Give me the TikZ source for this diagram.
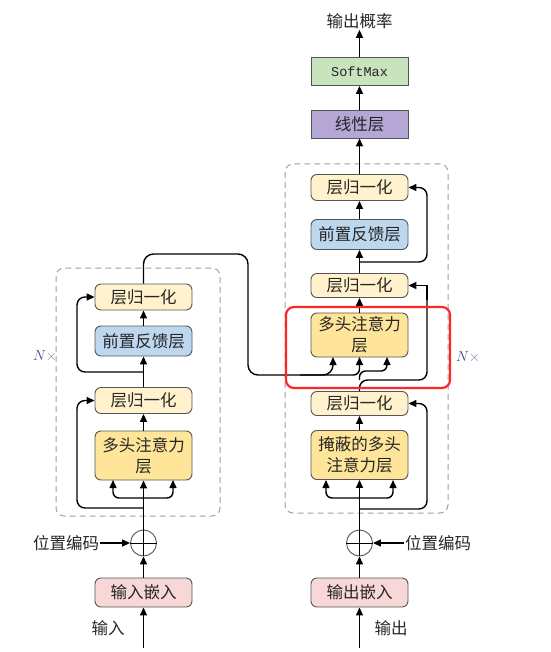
\documentclass[tikz,border=0pt]{standalone}
\usepackage{fontspec}
\setmainfont{Noto Sans CJK SC}
\newfontfamily\monofont{Liberation Mono}
\usetikzlibrary{arrows.meta}

\definecolor{lnfill}{HTML}{FFF2CC}
\definecolor{mhafill}{HTML}{FFE599}
\definecolor{fffill}{HTML}{BDD7EE}
\definecolor{embfill}{HTML}{F8D7D7}
\definecolor{linfill}{HTML}{B4A7D6}
\definecolor{smfill}{HTML}{C9E3BC}
\definecolor{boxline}{HTML}{555555}
\definecolor{framegray}{HTML}{A0A0A0}
\definecolor{nblue}{HTML}{3A4080}
\definecolor{npurple}{HTML}{A070A8}

\tikzset{
  block/.style={draw=boxline, line width=0.9pt, rounded corners=6pt, minimum width=97pt,
    inner sep=0pt, align=center, text=black!85, font=\fontsize{16.5}{21}\selectfont},
  lnbox/.style={block, fill=lnfill, minimum height=26pt},
  mhabox/.style={block, fill=mhafill, minimum height=49pt},
  ffbox/.style={block, fill=fffill, minimum height=30pt},
  embbox/.style={block, fill=embfill, minimum height=29pt},
  headbox/.style={block, rounded corners=0pt, minimum height=28pt},
  pecircle/.style={circle, draw=boxline, line width=0.9pt, minimum size=26pt, inner sep=0pt},
  lbl/.style={inner sep=1pt, text=black!85, font=\fontsize{16.5}{20}\selectfont},
  arr/.style={line width=1.4pt, -{Triangle[length=8pt,width=7pt]}},
  wire/.style={line width=1.4pt, rounded corners=8pt},
  frame/.style={draw=framegray, line width=1pt, dash pattern=on 6pt off 4pt, rounded corners=8pt},
  nlabel/.style={font=\fontsize{15}{17}\selectfont}
}

\begin{document}
\begin{tikzpicture}[x=1pt, y=-1pt]
    \useasboundingbox (0,0) rectangle (550,652);

    %% Encoder (left)
    % Input and positional encoding
    \coordinate (inbot) at (143.5,648);
    \node[lbl] (inlbl) at (108,628) {输入};
    \node[embbox] (inemb) at (143.5,592.5) {输入嵌入};
    \node[pecircle] (inpe) at (143.5,543) {};
    \draw[line width=0.9pt] (inpe.west) -- (inpe.east);
    \draw[line width=1.2pt] (inpe.south) -- (inpe.north);
    \node[lbl] (inpelbl) at (66,543) {位置编码};
    \draw[arr] (inbot) -- (inemb.south);
    \draw[arr] (inemb.north) -- (inpe.south);
    \draw[arr] (inpelbl.east) -- (inpe.west);

    % Encoder layer
    \draw[frame] (56,268) rectangle (220,516);
    \node[nlabel] (encn) at (45,356) {\textcolor{nblue}{$N$}\textcolor{npurple}{$\times$}};
    \node[mhabox] (encmha) at (143.5,455.5) {多头注意力\\层};
    \node[lnbox] (encln1) at (143.5,400.5) {层归一化};
    \node[ffbox] (encff) at (143.5,341) {前置反馈层};
    \node[lnbox] (encln2) at (143.5,297) {层归一化};

    \coordinate (encsplit) at (143.5,498);
    \coordinate (encres1) at (143.5,508);
    \coordinate (encres2) at (143.5,372);
    \draw[arr] (inpe.north) -- (encmha.south);
    \draw[arr, wire, rounded corners=6pt] (encsplit) -| (113,480);
    \draw[arr, wire, rounded corners=6pt] (encsplit) -| (173,480);
    \draw[arr, wire] (encres1) -| (77,400.5) -- (encln1.west);
    \draw[arr] (encmha.north) -- (encln1.south);
    \draw[arr] (encln1.north) -- (encff.south);
    \draw[arr, wire] (encres2) -| (77,297) -- (encln2.west);
    \draw[arr] (encff.north) -- (encln2.south);

    %% Decoder (right)
    % Output and positional encoding
    \coordinate (outbot) at (359.5,648);
    \node[lbl] (outlbl) at (391,628) {输出};
    \node[embbox] (outemb) at (359.5,592.5) {输出嵌入};
    \node[pecircle] (outpe) at (359.5,543) {};
    \draw[line width=0.9pt] (outpe.west) -- (outpe.east);
    \draw[line width=1.2pt] (outpe.south) -- (outpe.north);
    \node[lbl] (outpelbl) at (438,543) {位置编码};
    \draw[arr] (outbot) -- (outemb.south);
    \draw[arr] (outemb.north) -- (outpe.south);
    \draw[arr] (outpelbl.west) -- (outpe.east);

    % Decoder layer
    \draw[frame] (285,164) rectangle (448,513);
    \node[nlabel] (decn) at (468,357) {\textcolor{nblue}{$N$}\textcolor{npurple}{$\times$}};
    \node[mhabox] (decmmha) at (359.5,455) {掩蔽的多头\\注意力层};
    \node[lnbox, minimum height=24pt] (decln1) at (359.5,403.5) {层归一化};
    \node[mhabox, minimum height=44pt] (decmha) at (359.5,335) {多头注意力\\层};
    \node[lnbox, minimum height=24pt] (decln2) at (359.5,285.5) {层归一化};
    \node[ffbox] (decff) at (359.5,234.5) {前置反馈层};
    \node[lnbox] (decln3) at (359.5,187.5) {层归一化};

    \coordinate (decsplit) at (359.5,498);
    \coordinate (decres1) at (359.5,509);
    \coordinate (decres2) at (359.5,380);
    \coordinate (decres3) at (359.5,262);
    \draw[arr] (outpe.north) -- (decmmha.south);
    \draw[arr, wire, rounded corners=6pt] (decsplit) -| (326,480);
    \draw[arr, wire, rounded corners=6pt] (decsplit) -| (393,480);
    \draw[arr, wire] (decres1) -| (427,403.5) -- (decln1.east);
    \draw[arr] (decmmha.north) -- (decln1.south);

    % Encoder output into cross attention
    \draw[arr, wire, rounded corners=10pt] (encln2.north) -- (143.5,254) -- (248,254)
        -- (248,375) -- (333,375) -- (333,357);
    \draw[arr, wire, rounded corners=6pt] (300,375) -- (359.5,375) -- (359.5,357);
    % Query from decoder
    \draw[wire] (decln1.north) -- (decres2) -| (427,285.5);
    \draw[arr] (427,300) |- (decln2.east);
    \draw[arr, wire, rounded corners=6pt] (decres2) -- (359.5,371) -- (387,371) -- (387,357);

    \draw[arr] (decmha.north) -- (decln2.south);
    \draw[arr] (decln2.north) -- (decff.south);
    \draw[arr, wire] (decres3) -| (427,187.5) -- (decln3.east);
    \draw[arr] (decff.north) -- (decln3.south);

    % Highlight of the cross attention
    \draw[red!85!white, line width=2.2pt, rounded corners=8pt] (286,307) rectangle (450,388);

    %% Output head
    \node[headbox, fill=linfill] (linear) at (359.5,124) {线性层};
    \node[headbox, fill=smfill, font=\monofont\fontsize{13.5}{16}\selectfont] (softmax) at (359.5,71.5) {SoftMax};
    \node[lbl] (prob) at (359.5,21) {输出概率};
    \draw[arr] (decln3.north) -- (linear.south);
    \draw[arr] (linear.north) -- (softmax.south);
    \draw[arr] (softmax.north) -- (prob.south);

\end{tikzpicture}
\end{document}
